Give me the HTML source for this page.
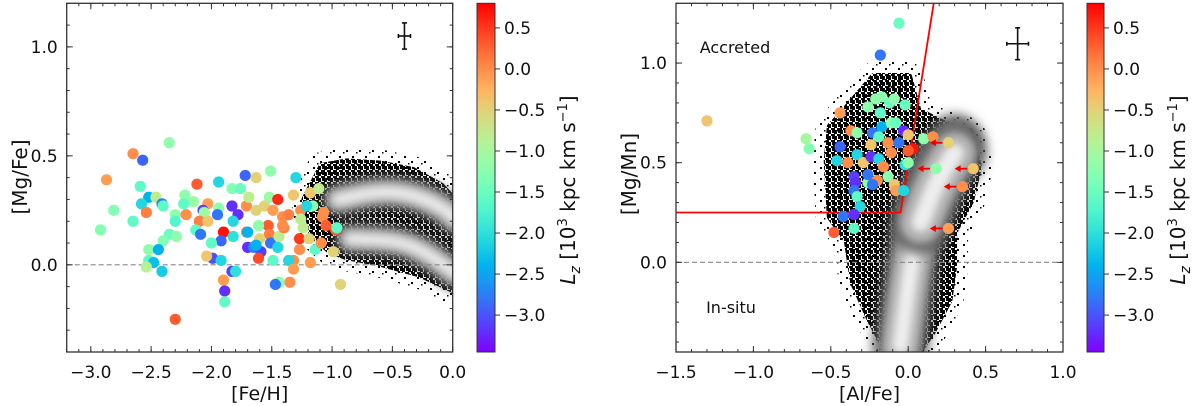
<!DOCTYPE html>
<html><head><meta charset="utf-8">
<style>
html,body{margin:0;padding:0;background:#fff;}
svg{display:block;font-family:"DejaVu Sans","Liberation Sans",sans-serif;}
</style></head>
<body>
<svg id="fig" width="1200" height="406" viewBox="0 0 1200 406" xmlns="http://www.w3.org/2000/svg">
<defs>
<filter id="blur5" filterUnits="userSpaceOnUse" x="0" y="0" width="1200" height="406"><feGaussianBlur stdDeviation="6"/></filter>
<filter id="blur3" filterUnits="userSpaceOnUse" x="0" y="0" width="1200" height="406"><feGaussianBlur stdDeviation="4"/></filter>
<pattern id="speck" width="13" height="11" patternUnits="userSpaceOnUse">
<rect x="1" y="2" width="2" height="2" fill="#000"/><rect x="8" y="7" width="2" height="2" fill="#000"/><rect x="5" y="9" width="1.5" height="1.5" fill="#000"/>
</pattern>
<pattern id="dense" width="6" height="6" patternUnits="userSpaceOnUse">
<rect x="0" y="0" width="3" height="2" fill="#000"/><rect x="3" y="2" width="3" height="2" fill="#000"/><rect x="0" y="4" width="3" height="2" fill="#000"/><rect x="4" y="4" width="2" height="2" fill="#000"/><rect x="4" y="0" width="2" height="1" fill="#000"/><rect x="0" y="2" width="1" height="2" fill="#000"/>
</pattern>
<clipPath id="clipL"><rect x="66.7" y="3.3" width="386" height="348.7"/></clipPath>
<clipPath id="clipR"><rect x="676" y="3.3" width="387" height="348.7"/></clipPath>
</defs>
</svg>
<script>
// ---------- LEFT PANEL DATA ----------
const feh = [-2.35,-2.65,-2.57,-2.87,-2.59,-2.52,-2.46,-2.58,-2.41,-2.40,-2.54,-2.81,-2.65,-2.92,-2.22,-2.15,-2.23,-2.30,-2.30,-2.21,-2.12,-2.03,-2.07,-2.06,-2.10,-2.03,-2.13,-2.09,-2.35,-2.29,-2.40,-2.52,-2.44,-2.52,-2.48,-2.54,-2.41,-1.94,-1.83,-1.76,-1.72,-1.63,-1.51,-1.83,-1.94,-1.95,-1.78,-1.71,-1.69,-1.82,-1.90,-1.92,-2.00,-1.82,-1.71,-1.70,-1.65,-1.59,-1.61,-1.99,-2.04,-1.92,-1.83,-1.80,-1.90,-1.89,-1.89,-2.30,-1.63,-1.56,-1.52,-1.45,-1.49,-1.53,-1.52,-1.60,-1.51,-1.44,-1.45,-1.49,-1.41,-1.40,-1.36,-1.32,-1.30,-1.18,-1.11,-1.26,-1.26,-1.27,-1.27,-1.32,-1.36,-1.32,-1.18,-1.14,-1.19,-1.09,-1.35,-1.44,-1.47,-1.16,-1.61,-1.70,-1.63,-1.21,-1.07,-1.08,-1.05,-0.97,-0.96,-1.41,-1.24,-0.99,-0.93];
const mgfe = [0.56,0.51,0.48,0.39,0.36,0.31,0.31,0.28,0.28,0.27,0.24,0.25,0.20,0.16,0.32,0.29,0.28,0.23,0.20,0.23,0.37,0.28,0.25,0.24,0.20,0.20,0.16,0.14,0.14,0.13,0.11,0.07,0.07,0.02,0.01,-0.01,-0.03,0.38,0.35,0.35,0.41,0.40,0.43,0.27,0.26,0.23,0.23,0.27,0.31,0.20,0.15,0.11,0.10,0.13,0.15,0.08,0.08,0.06,0.03,0.03,0.04,0.02,-0.03,-0.03,-0.07,-0.12,-0.17,-0.25,0.25,0.27,0.31,0.30,0.25,0.18,0.14,0.12,0.10,0.13,0.08,0.02,0.22,0.17,0.23,0.32,0.40,0.33,0.35,0.25,0.21,0.12,0.07,0.02,0.02,-0.02,0.01,0.07,0.12,0.10,-0.08,-0.08,-0.09,0.27,0.18,0.15,0.09,0.27,0.24,0.22,0.18,0.16,0.17,0.18,0.17,0.06,-0.09];
const lzL = [-1.2,0.0,-2.9,-0.1,-1.6,-2.4,-0.8,-2.1,-2.7,-1.6,0.1,-1.3,-1.6,-1.3,-1.2,-1.1,-1.6,-1.2,-1.7,0.0,0.3,-0.1,-3.1,-1.1,0.1,-0.4,-1.6,-2.8,-1.5,-1.2,-1.3,-1.2,-2.4,-1.6,-2.3,-0.9,-2.2,-2.1,-1.3,-1.5,-2.9,-0.5,-1.2,-3.2,-1.2,-2.8,-3.2,0.0,-0.8,-2.1,0.7,-2.9,-1.6,-2.0,0.0,-3.2,-2.7,-3.1,0.4,-3.0,-0.4,-2.1,-3.1,-2.0,-0.1,-3.2,-1.6,0.3,-0.5,-0.5,-1.1,0.6,-0.1,0.3,0.1,-0.5,-2.8,-0.8,-2.1,-1.6,0.0,0.1,0.1,-0.4,-2.1,-0.4,-0.8,0.0,-0.8,0.5,0.0,0.0,-2.1,-0.1,-0.1,-1.6,-0.5,0.0,0.0,-1.3,-2.8,-1.2,-1.2,-2.4,-2.4,-2.1,0.0,0.0,0.3,0.3,-1.6,0.0,-0.8,-0.5,-0.5];
// ---------- RIGHT PANEL DATA ----------
const alfe = [-0.06,-0.18,-0.44,-0.26,-0.21,-0.17,-0.12,-0.09,-0.02,-0.18,-0.37,-0.33,-0.23,-0.17,-0.11,-0.08,-0.03,0.00,-0.44,-0.24,-0.19,-0.13,-0.06,0.03,0.00,0.10,0.16,0.26,0.18,0.42,0.35,0.26,-0.46,-0.39,-0.33,-0.29,-0.24,-0.19,-0.16,-0.11,-0.02,0.00,-0.35,-0.26,-0.26,-0.20,-0.23,-0.13,-0.09,-0.08,-0.03,-0.34,-0.35,-0.33,-0.31,-0.42,-0.35,-0.35,-0.48,-0.66,-0.64,-1.30];
const mgmn = [1.20,1.04,0.75,0.78,0.82,0.83,0.80,0.82,0.79,0.75,0.66,0.65,0.65,0.68,0.70,0.70,0.66,0.64,0.58,0.59,0.63,0.60,0.60,0.57,0.56,0.62,0.63,0.60,0.47,0.47,0.38,0.17,0.51,0.50,0.54,0.50,0.53,0.52,0.48,0.55,0.49,0.50,0.43,0.40,0.44,0.41,0.39,0.43,0.39,0.36,0.36,0.40,0.36,0.33,0.28,0.23,0.24,0.17,0.15,0.62,0.57,0.71];
const lzR = [-1.5,-2.8,-0.1,-1.2,-1.2,-1.2,-1.5,-1.2,-1.5,-1.6,0.0,-1.2,-2.8,-2.4,-1.2,-1.5,-3.2,-0.4,-2.9,-0.4,-1.6,0.0,-2.8,0.7,0.3,-1.2,0.0,-0.5,-1.2,-0.4,0.0,-0.1,-2.1,0.0,-2.1,-0.4,-3.2,-2.1,0.0,0.0,-2.0,-1.2,-3.1,-1.2,-2.8,0.0,-2.8,-1.2,-0.4,-0.1,-2.1,-3.2,-2.8,-1.6,-2.1,-2.8,-3.2,-1.6,0.3,-1.0,-1.3,-0.4];
const limitIdx = [27,28,29,30,31];
const arrowLen = 0.12;
const lzMin = -3.45, lzMax = 0.8;
const cbTicks = [0.5,0.0,-0.5,-1.0,-1.5,-2.0,-2.5,-3.0];
const lXTicks = [-3.0,-2.5,-2.0,-1.5,-1.0,-0.5,0.0];
const lYTicks = [0.0,0.5,1.0];
const rXTicks = [-1.5,-1.0,-0.5,0.0,0.5,1.0];
const rYTicks = [0.0,0.5,1.0];
const errL = [-0.40,1.05,0.05,0.06];
const errR = [0.707,1.097,0.07,0.08];
const boundX = [-1.5,-0.05,0.165];
const boundY = [0.25,0.25,1.3];
const envLx=[-1.08,-0.88,-0.60,-0.33,-0.10,0.0,0.0,-0.27,-0.60,-0.88,-1.02,-1.16,-1.22];
const envLy=[0.45,0.47,0.46,0.43,0.36,0.30,-0.11,-0.04,0.01,0.04,0.07,0.14,0.30];
const ridgeL1x=[-0.95,-0.6,-0.3,-0.05,0.02], ridgeL1y=[0.30,0.34,0.32,0.25,0.21];
const ridgeL2x=[-0.85,-0.44,-0.2,0.02], ridgeL2y=[0.12,0.11,0.05,-0.04];
const envRx=[-0.44,-0.22,0.0,0.06,0.21,0.40,0.45,0.40,0.29,0.29,0.26,0.15,0.06,-0.13,-0.24,-0.35,-0.39,-0.50,-0.52,-0.50];
const envRy=[0.73,0.93,0.93,0.76,0.70,0.65,0.48,0.31,0.15,-0.02,-0.19,-0.35,-0.45,-0.45,-0.29,-0.10,0.11,0.23,0.51,0.68];
const ridgeRx=[-0.05,0.02,0.09,0.2,0.3], ridgeRy=[-0.42,0.0,0.28,0.5,0.6];
const ridgeR2x=[0.08,0.18,0.3], ridgeR2y=[0.2,0.4,0.55];

const NS="http://www.w3.org/2000/svg";
const svg=document.getElementById('fig');
function el(tag,attrs,parent){const e=document.createElementNS(NS,tag);for(const k in attrs)e.setAttribute(k,attrs[k]);(parent||svg).appendChild(e);return e;}
const L={x0:66.7,x1:452.7,y0:3.3,y1:352,xmin:-3.2,xmax:0.0,ymin:-0.4,ymax:1.2};
const R={x0:676,x1:1063,y0:3.3,y1:352,xmin:-1.5,xmax:1.0,ymin:-0.45,ymax:1.3};
function sx(A,v){return A.x0+(v-A.xmin)/(A.xmax-A.xmin)*(A.x1-A.x0);}
function sy(A,v){return A.y1-(v-A.ymin)/(A.ymax-A.ymin)*(A.y1-A.y0);}
function rainbow(t){t=Math.max(0,Math.min(1,t));const r=Math.min(1,Math.abs(2*t-0.5)),g=Math.sin(Math.PI*t),b=Math.cos(Math.PI*t/2);return `rgb(${Math.round(r*255)},${Math.round(g*255)},${Math.round(b*255)})`;}
function lzColor(v){return rainbow((v-lzMin)/(lzMax-lzMin));}
function fmt(v){return (v<0?'\u2212':'')+Math.abs(v).toFixed(1);}
function polyPath(A,xs,ys,close){let d='';for(let i=0;i<xs.length;i++){d+=(i?'L':'M')+sx(A,xs[i]).toFixed(1)+','+sy(A,ys[i]).toFixed(1);}return d+(close?'Z':'');}
function smoothPath(A,xs,ys){const p=xs.map((x,i)=>[sx(A,x),sy(A,ys[i])]);let d='M'+p[0][0]+','+p[0][1];for(let i=1;i<p.length;i++){const m=[(p[i-1][0]+p[i][0])/2,(p[i-1][1]+p[i][1])/2];d+=' Q'+p[i-1][0]+','+p[i-1][1]+' '+m[0]+','+m[1];}d+=' L'+p[p.length-1][0]+','+p[p.length-1][1];return d;}

const defs=svg.querySelector('defs');
const grad=el('linearGradient',{id:'cbg',x1:'0',y1:'1',x2:'0',y2:'0'},defs);
for(let i=0;i<=20;i++){el('stop',{offset:(i/20),'stop-color':rainbow(i/20)},grad);}

function density(A,clip,envx,envy,ridges,name){
  const g=el('g',{'clip-path':`url(#${clip})`});
  
  
  const env=polyPath(A,envx,envy,true);
  el('path',{d:env,fill:'url(#speck)',stroke:'url(#speck)','stroke-width':'30','stroke-linejoin':'round'},g);
  el('path',{d:env,fill:'url(#dense)',stroke:'url(#dense)','stroke-width':'8','stroke-linejoin':'round'},g);
  ridges.forEach(r=>{
    const w=r[2];
    el('path',{d:smoothPath(A,r[0],r[1]),fill:'none',stroke:'#5a5a5a','stroke-width':w,'stroke-linecap':'round',filter:'url(#blur5)'},g);
    el('path',{d:smoothPath(A,r[0],r[1]),fill:'none',stroke:'#b0b0b0','stroke-width':w*0.7,'stroke-linecap':'round',filter:'url(#blur3)'},g);
    el('path',{d:smoothPath(A,r[0],r[1]),fill:'none',stroke:'#eeeeee','stroke-width':w*0.3,'stroke-linecap':'round',filter:'url(#blur3)'},g);
  });
}

function axesFrame(A,xt,yt,xminor,yminor,name){
  const g=el('g',{});
  
  
  el('rect',{x:A.x0,y:A.y0,width:A.x1-A.x0,height:A.y1-A.y0,fill:'none',stroke:'#333','stroke-width':1.3},g);
  for(const v of xminor){const x=sx(A,v);el('line',{x1:x,x2:x,y1:A.y1,y2:A.y1-3,stroke:'#333'},g);el('line',{x1:x,x2:x,y1:A.y0,y2:A.y0+3,stroke:'#333'},g);}
  for(const v of yminor){const y=sy(A,v);el('line',{x1:A.x0,x2:A.x0+3,y1:y,y2:y,stroke:'#333'},g);el('line',{x1:A.x1,x2:A.x1-3,y1:y,y2:y,stroke:'#333'},g);}
  for(const v of xt){const x=sx(A,v);el('line',{x1:x,x2:x,y1:A.y1,y2:A.y1-6,stroke:'#333'},g);el('line',{x1:x,x2:x,y1:A.y0,y2:A.y0+6,stroke:'#333'},g);
    const t=el('text',{x:x,y:378,'text-anchor':'middle','font-size':'17',fill:'#111'},g);t.textContent=fmt(v);
    
    }
  for(const v of yt){const y=sy(A,v);el('line',{x1:A.x0,x2:A.x0+6,y1:y,y2:y,stroke:'#333'},g);el('line',{x1:A.x1,x2:A.x1-6,y1:y,y2:y,stroke:'#333'},g);
    const t=el('text',{x:A.x0-9,y:y+6,'text-anchor':'end','font-size':'17',fill:'#111'},g);t.textContent=fmt(v);
    
    }
}
function range(a,b,s){const r=[];for(let v=a;v<=b+1e-9;v+=s)r.push(Math.round(v*10)/10);return r;}

function scatter(A,clip,xs,ys,lz,name){
  const g=el('g',{'clip-path':`url(#${clip})`});
  
  
  for(let i=0;i<xs.length;i++){
    const c=el('circle',{cx:sx(A,xs[i]),cy:sy(A,ys[i]),r:5.6,fill:lzColor(lz[i])},g);
    
    
  }
}
function zeroLine(A,name){
  const l=el('line',{x1:A.x0,x2:A.x1,y1:sy(A,0),y2:sy(A,0),stroke:'#888','stroke-width':1.2,'stroke-dasharray':'5,3'});
  
  
}
function errCross(A,e,name){
  const g=el('g',{stroke:'#111','stroke-width':1.6});
  
  
  const cx=sx(A,e[0]),cy=sy(A,e[1]),x1=sx(A,e[0]-e[2]),x2=sx(A,e[0]+e[2]),y1=sy(A,e[1]+e[3]),y2=sy(A,e[1]-e[3]);
  el('line',{x1:x1,x2:x2,y1:cy,y2:cy},g);el('line',{x1:cx,x2:cx,y1:y1,y2:y2},g);
  el('line',{x1:x1,x2:x1,y1:cy-2,y2:cy+2},g);el('line',{x1:x2,x2:x2,y1:cy-2,y2:cy+2},g);
  el('line',{x1:cx-2.5,x2:cx+2.5,y1:y1,y2:y1},g);el('line',{x1:cx-2.5,x2:cx+2.5,y1:y2,y2:y2},g);
}
function colorbar(x0,x1,A,name,labelX){
  const g=el('g',{});
  
  
  el('rect',{x:x0,y:A.y0,width:x1-x0,height:A.y1-A.y0,fill:'url(#cbg)',stroke:'#333','stroke-width':1},g);
  const cy=v=>A.y1-(v-lzMin)/(lzMax-lzMin)*(A.y1-A.y0);
  for(const v of cbTicks){const y=cy(v);el('line',{x1:x1,x2:x1+5,y1:y,y2:y,stroke:'#333'},g);
    const t=el('text',{x:x1+9,y:y+6,'font-size':'17',fill:'#111'},g);t.textContent=fmt(v);
    
    }
  const t=el('text',{x:labelX,y:190,'text-anchor':'middle','font-size':'20',fill:'#111',transform:`rotate(-90 ${labelX} 190)`},g);
  
  
  t.innerHTML='<tspan font-style="italic">L</tspan><tspan font-style="italic" font-size="14" dy="5">z</tspan><tspan dy="-5"> [10</tspan><tspan font-size="13" dy="-8">3</tspan><tspan dy="8"> kpc km s</tspan><tspan font-size="13" dy="-8">\u22121</tspan><tspan dy="8">]</tspan>';
}
function label(x,y,txt,name,rot,size){
  const t=el('text',{x:x,y:y,'text-anchor':'middle','font-size':size||20,fill:'#111'});
  if(rot)t.setAttribute('transform',`rotate(-90 ${x} ${y})`);
  t.textContent=txt;
  
  
}

// LEFT
density(L,'clipL',envLx,envLy,[[ridgeL1x,ridgeL1y,34],[ridgeL2x,ridgeL2y,32]],'disk-density-left');
zeroLine(L,'zero-line-left');
scatter(L,'clipL',feh,mgfe,lzL,'stars-left');
errCross(L,errL,'error-bar-left');
axesFrame(L,lXTicks,lYTicks,range(-3.2,0,0.1),range(-0.4,1.2,0.1),'axes-left');
label(259.7,400,'[Fe/H]','x-axis-title-left',false,19);
label(27,177,'[Mg/Fe]','y-axis-title-left',true);
colorbar(477,495,L,'colorbar-left',575);

// RIGHT
density(R,'clipR',envRx,envRy,[[ridgeRx,ridgeRy,55],[ridgeR2x,ridgeR2y,62]],'disk-density-right');
zeroLine(R,'zero-line-right');
(function(){const p=el('path',{d:polyPath(R,boundX,boundY,false),fill:'none',stroke:'#f00','stroke-width':1.8,'clip-path':'url(#clipR)'});

})();
scatter(R,'clipR',alfe,mgmn,lzR,'stars-right');
(function(){const g=el('g',{stroke:'#e00','stroke-width':1.8,fill:'#e00'});


for(const i of limitIdx){const x1=sx(R,alfe[i])-6,x2=sx(R,alfe[i]-arrowLen),y=sy(R,mgmn[i]);
el('line',{x1:x1,x2:x2+4,y1:y,y2:y},g);el('path',{d:`M${x2},${y} L${x2+6},${y-3.5} L${x2+6},${y+3.5}Z`,stroke:'none'},g);}})();
errCross(R,errR,'error-bar-right');
axesFrame(R,rXTicks,rYTicks,range(-1.5,1.0,0.1),range(-0.4,1.3,0.1),'axes-right');
label(869.5,400,'[Al/Fe]','x-axis-title-right',false,19);
label(636,174,'[Mg/Mn]','y-axis-title-right',true);
label(735,53,'Accreted','accreted-label',false,16);
label(731,313,'In-situ','in-situ-label',false,16);
colorbar(1087,1104,R,'colorbar-right',1185);
</script>
</body></html>
